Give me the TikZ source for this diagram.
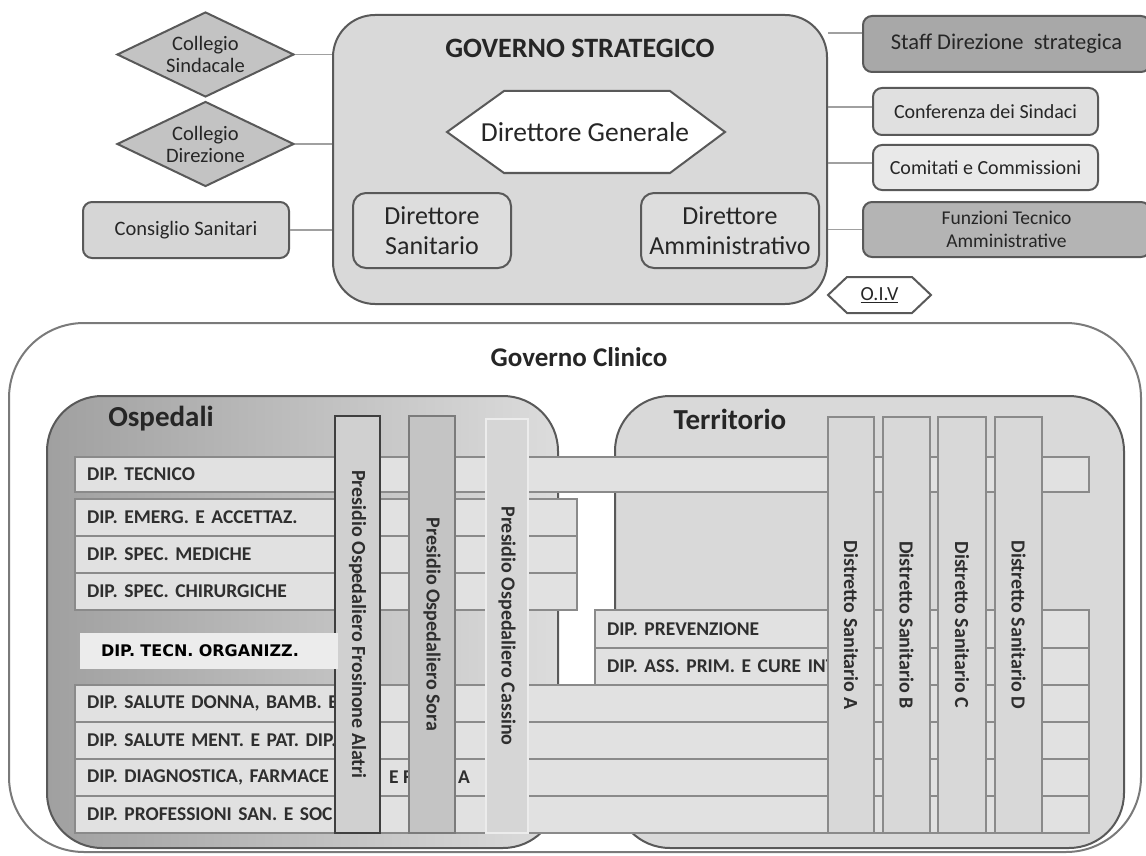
\documentclass[tikz,border=0pt]{standalone}
\usepackage{fontspec}
\setmainfont{Carlito}
\newfontfamily\djv{DejaVu Sans}
\usetikzlibrary{shapes.geometric,calc}
\newcommand\fsz[2]{\fontsize{#1}{#2}\selectfont}
\definecolor{dk}{HTML}{595959}
\definecolor{gsfill}{HTML}{D9D9D9}
\definecolor{diafill}{HTML}{C3C3C3}
\definecolor{csfill}{HTML}{D6D6D6}
\definecolor{dsfill}{HTML}{DDDDDD}
\definecolor{staffill}{HTML}{A8A8A8}
\definecolor{funzfill}{HTML}{B4B4B4}
\definecolor{conffill}{HTML}{E0E0E0}
\definecolor{comfill}{HTML}{E9E9E9}
\definecolor{lineg}{HTML}{A0A0A0}
\definecolor{gcline}{HTML}{7A7A7A}
\definecolor{ospL}{HTML}{A0A0A0}
\definecolor{ospR}{HTML}{DCDCDC}
\definecolor{terfill}{HTML}{D9D9D9}
\definecolor{barfill}{HTML}{E1E1E1}
\definecolor{barline}{HTML}{8A8A8A}
\definecolor{froFill}{HTML}{D0D0D0}
\definecolor{froLine}{HTML}{3F3F3F}
\definecolor{soraFill}{HTML}{C4C4C4}
\definecolor{soraLine}{HTML}{7B7B7B}
\definecolor{casFill}{HTML}{D6D6D6}
\definecolor{casLine}{HTML}{ECECEC}
\definecolor{disFill}{HTML}{D8D8D8}
\definecolor{disLine}{HTML}{8A8A8A}
\definecolor{orgfill}{HTML}{ECECEC}
\definecolor{txt}{HTML}{262626}
\definecolor{dtxt}{HTML}{2E2E2E}
\tikzset{
  conn/.style={draw=lineg, line width=1.5pt},
  rbox/.style={draw=dk, line width=2pt, rounded corners=9pt, inner sep=0pt, text=txt, align=center},
  diam/.style={diamond, draw=dk, fill=diafill, line width=2pt, inner sep=0pt, aspect=2.08,
    minimum width=177pt, minimum height=85pt, align=center, text=txt, font=\fsz{20.5}{22}},
  hbar/.style={draw=barline, fill=barfill, line width=2pt, inner ysep=0pt, inner xsep=12pt,
    align=left, text=dtxt, font=\fsz{19.5}{22}\bfseries},
  vbar/.style={line width=2pt, inner sep=0pt, rotate=-90, text=dtxt, font=\fsz{20}{22}\bfseries},
  frag/.style={anchor=west, inner sep=0pt, text=dtxt, font=\fsz{19.5}{22}\bfseries}
}
\begin{document}
\begin{tikzpicture}[x=1pt,y=-1pt]
\useasboundingbox (0,0) rectangle (1146,856);
% ---------- Governo strategico ----------
\node[draw=dk, fill=gsfill, line width=2pt, rounded corners=42pt, minimum width=494pt,
  minimum height=289pt, inner sep=0pt] (gs) at (580,159.5) {};
\node[font=\fsz{28}{30}\bfseries, text=txt] (gst) at (580,48) {GOVERNO STRATEGICO};
\path[draw=dk, fill=white, line width=2pt] (447,132) -- (504,91) -- (670,91) -- (725,132)
  -- (670,173) -- (504,173) -- cycle;
\node[font=\fsz{27.5}{30}, text=txt] (dg) at (585,132) {Direttore Generale};
\node[rbox, rounded corners=13pt, fill=dsfill, minimum width=158pt, minimum height=75pt,
  font=\fsz{26}{30}] (ds) at (432,230.5) {Direttore\\Sanitario};
\node[rbox, rounded corners=13pt, fill=dsfill, minimum width=178pt, minimum height=75pt,
  font=\fsz{26}{30}] (da) at (730,230.5) {Direttore\\Amministrativo};
% left side
\node[diam] (cs) at (205.5,54.5) {Collegio\\Sindacale};
\node[diam] (cd) at (205.5,144) {Collegio\\Direzione};
\node[rbox, fill=csfill, minimum width=206pt, minimum height=56pt, font=\fsz{20.5}{24}]
  (cons) at (186,230) {Consiglio Sanitari};
\draw[conn] (cs.east) -- (cs.east -| gs.west);
\draw[conn] (cd.east) -- (cd.east -| gs.west);
\draw[conn] (cons.east) -- (cons.east -| gs.west);
% right side
\node[rbox, fill=staffill, minimum width=287pt, minimum height=56pt, font=\fsz{22.5}{26}]
  (staff) at (1006.5,44) {Staff Direzione\ \ strategica};
\node[rbox, fill=conffill, minimum width=225pt, minimum height=47pt, font=\fsz{20}{24}]
  (conf) at (985.5,111.5) {Conferenza dei Sindaci};
\node[rbox, fill=comfill, minimum width=225pt, minimum height=45pt, font=\fsz{20}{24}]
  (com) at (985.5,167.5) {Comitati e Commissioni};
\node[rbox, fill=funzfill, minimum width=287pt, minimum height=55pt, font=\fsz{19.5}{23}]
  (funz) at (1006.5,229.5) {Funzioni Tecnico\\Amministrative};
\coordinate (c1) at ([yshift=11pt]staff.west);
\coordinate (c2) at ([yshift=4.5pt]conf.west);
\coordinate (c3) at ([yshift=4.5pt]com.west);
\coordinate (c4) at (funz.west);
\draw[conn] (c1) -- (c1 -| gs.east);
\draw[conn] (c2) -- (c2 -| gs.east);
\draw[conn] (c3) -- (c3 -| gs.east);
\draw[conn] (c4) -- (c4 -| gs.east);
% OIV
\path[draw=dk, fill=white, line width=2pt] (828,295) -- (847,277) -- (912,277) -- (931,295)
  -- (912,313) -- (847,313) -- cycle;
\node[font=\fsz{20}{22}, text=txt] (oiv) at (879.5,295) {\underline{O.I.V}};
% ---------- Governo clinico ----------
\node[draw=gcline, fill=white, line width=2pt, rounded corners=75pt, minimum width=1132pt,
  minimum height=529pt, inner sep=0pt] (gc) at (575,587.5) {};
\node[font=\fsz{27}{30}\bfseries, text=txt] (gct) at (579,357) {Governo Clinico};
\node[draw=dk, left color=ospL, right color=ospR, line width=2pt, rounded corners=55pt,
  minimum width=511pt, minimum height=452pt, inner sep=0pt] (osp) at (302.5,622) {};
\node[draw=dk, fill=terfill, line width=2pt, rounded corners=55pt,
  minimum width=509pt, minimum height=452pt, inner sep=0pt] (ter) at (869.5,622) {};
\node[font=\fsz{29}{32}\bfseries, text=txt] (ospt) at (161,419) {Ospedali};
\node[font=\fsz{29}{32}\bfseries, text=txt] (tert) at (730,419) {Territorio};
% horizontal bars
\node[hbar, text width=990pt, minimum height=35pt] (tec) at (582,474.5) {DIP. TECNICO};
\node[hbar, text width=478pt, minimum height=37pt] (emerg) at (326,517.5) {DIP. EMERG. E ACCETTAZ.};
\node[hbar, text width=478pt, minimum height=37pt] (med) at (326,554.5) {DIP. SPEC. MEDICHE};
\node[hbar, text width=478pt, minimum height=37pt] (chir) at (326,591.5) {DIP. SPEC. CHIRURGICHE};
\node[hbar, text width=470pt, minimum height=38pt] (prev) at (842,629) {DIP. PREVENZIONE};
\node[hbar, text width=470pt, minimum height=37pt] (ass) at (842,666.5) {DIP. ASS. PRIM. E CURE INT};
\node[hbar, text width=990pt, minimum height=37pt] (donna) at (582,703.5) {DIP. SALUTE DONNA, BAMB. E};
\node[hbar, text width=990pt, minimum height=37pt] (ment) at (582,740.5) {DIP. SALUTE MENT. E PAT. DIP.};
\node[hbar, text width=990pt, minimum height=37pt] (diag) at (582,777.5) {DIP. DIAGNOSTICA, FARMACE};
\node[hbar, text width=990pt, minimum height=37pt] (prof) at (582,814.5) {DIP. PROFESSIONI SAN. E SOC};
\node[frag] (diag2) at (389,777.5) {E F};
\node[frag] (diag3) at (458,777.5) {A};
% vertical bars
\node[vbar, draw=froLine, fill=froFill, line width=2.5pt, minimum width=417pt, minimum height=45pt]
  (fro) at (357.5,624.5) {Presidio Ospedaliero Frosinone Alatri};
\node[vbar, draw=soraLine, fill=soraFill, minimum width=417pt, minimum height=46pt]
  (sora) at (432,624.5) {Presidio Ospedaliero Sora};
\node[vbar, draw=casLine, fill=casFill, minimum width=414pt, minimum height=42pt]
  (cas) at (507,626) {Presidio Ospedaliero Cassino};
\node[vbar, draw=disLine, fill=disFill, minimum width=416pt, minimum height=46pt]
  (da1) at (851,625) {Distretto Sanitario A};
\node[vbar, draw=disLine, fill=disFill, minimum width=416pt, minimum height=47pt]
  (db1) at (906.5,625) {Distretto Sanitario B};
\node[vbar, draw=disLine, fill=disFill, minimum width=416pt, minimum height=48pt]
  (dc1) at (962,625) {Distretto Sanitario C};
\node[vbar, draw=disLine, fill=disFill, minimum width=416pt, minimum height=47pt]
  (dd1) at (1018.5,625) {Distretto Sanitario D};
% DIP. TECN. ORGANIZZ.
\node[fill=orgfill, text width=216pt, inner xsep=21pt, inner ysep=0pt, minimum height=36pt,
  align=left, font=\djv\fsz{16}{18}\bfseries, text=black] (org) at (209,651) {DIP. TECN. ORGANIZZ.};
\end{tikzpicture}
\end{document}
